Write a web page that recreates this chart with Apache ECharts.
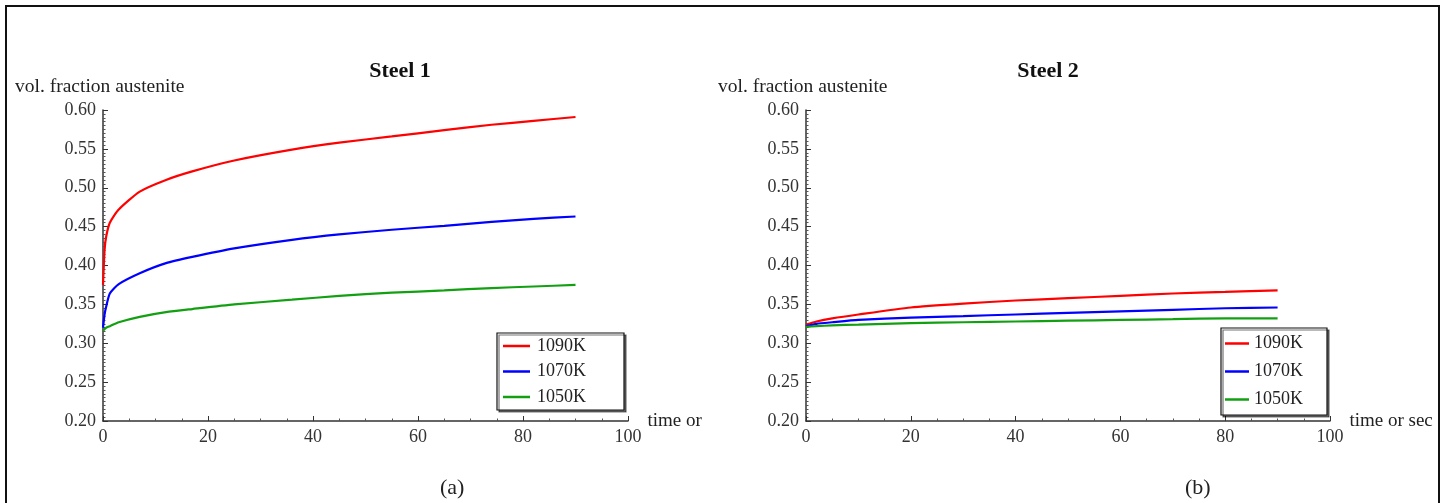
<!DOCTYPE html>
<html>
<head>
<meta charset="utf-8">
<script src="https://cdn.jsdelivr.net/npm/echarts@6/dist/echarts.min.js"></script>
<style>
  html, body { margin: 0; padding: 0; background: #fff; }
  body { width: 1450px; height: 503px; position: relative; overflow: hidden; }
  #steel1 { position: absolute; left: 0; top: 0; width: 705px; height: 503px; }
  #steel2 { position: absolute; left: 707px; top: 0; width: 730px; height: 503px; }
  #frame { position: absolute; left: 5px; top: 5px; width: 1431px; height: 520px;
           border: 2px solid #111; pointer-events: none; }
</style>
</head>
<body>
<div id="steel1"></div>
<div id="steel2"></div>
<div id="frame"></div>
<script>
// Austenite volume fraction vs. time at three holding temperatures
const seriesNames = ['1090K', '1070K', '1050K'];
const seriesColors = ['#ff0000', '#0000ff', '#12a012'];

// Steel 1
const time1 = [0, 0.3, 0.6, 1.3, 3, 7, 12, 17, 25, 36, 45, 55, 65, 74, 82, 90];
const steel1K1090 = [0.375, 0.420, 0.437, 0.455, 0.472, 0.495, 0.510, 0.521, 0.535, 0.549, 0.558, 0.566, 0.574, 0.581, 0.586, 0.591];
const steel1K1070 = [0.320, 0.337, 0.347, 0.364, 0.376, 0.390, 0.403, 0.411, 0.422, 0.433, 0.440, 0.446, 0.451, 0.456, 0.460, 0.463];
const steel1K1050 = [0.316, 0.318, 0.320, 0.322, 0.327, 0.334, 0.340, 0.344, 0.350, 0.356, 0.361, 0.365, 0.368, 0.371, 0.373, 0.375];

// Steel 2
const time2 = [0, 2, 5, 10, 20, 30, 40, 50, 60, 70, 80, 90];
const steel2K1090 = [0.324, 0.328, 0.332, 0.337, 0.346, 0.351, 0.355, 0.358, 0.361, 0.364, 0.366, 0.368];
const steel2K1070 = [0.322, 0.325, 0.327, 0.330, 0.333, 0.335, 0.337, 0.339, 0.341, 0.343, 0.345, 0.346];
const steel2K1050 = [0.321, 0.322, 0.323, 0.324, 0.326, 0.327, 0.328, 0.329, 0.330, 0.331, 0.332, 0.332];

const xMin = 0, xMax = 100, xStep = 20;
const yMin = 0.20, yMax = 0.60, yStep = 0.05;
const yAxisTitle = 'vol. fraction austenite';
const xAxisTitle = 'time or sec';

const FONT = '"Liberation Serif", "DejaVu Serif", serif';
const INK = '#222';

function pairs(xs, ys) { return xs.map((x, i) => [x, ys[i]]); }

function buildOption(cfg) {
  return {
    animation: false,
    backgroundColor: 'transparent',
    title: {
      text: cfg.title,
      left: cfg.titleX,
      top: 55,
      textAlign: 'center',
      textStyle: { fontFamily: FONT, fontSize: 22, fontWeight: 'bold', color: '#111' }
    },
    graphic: [{
      type: 'text',
      left: cfg.yNameX,
      top: 77,
      style: { text: yAxisTitle, font: '19.5px ' + FONT, fill: INK }
    }, {
      type: 'text',
      left: cfg.captionX,
      top: 477,
      style: { text: cfg.caption, font: '22px ' + FONT, fill: INK }
    }],
    legend: {
      orient: 'vertical',
      left: cfg.legend.left,
      top: cfg.legend.top,
      padding: cfg.legend.padding,
      itemGap: cfg.legend.gap,
      itemWidth: cfg.legend.itemWidth,
      itemHeight: 2.5,
      icon: 'rect',
      backgroundColor: '#fff',
      borderColor: '#111',
      borderWidth: 1.2,
      shadowColor: 'rgba(0,0,0,0.55)',
      shadowOffsetX: 2,
      shadowOffsetY: 2,
      shadowBlur: 0,
      data: seriesNames,
      textStyle: { fontFamily: FONT, fontSize: 18, lineHeight: 16, color: INK, padding: [0, 0, 0, cfg.legend.textPad] }
    },
    grid: { left: cfg.grid.left, right: cfg.grid.right, top: 110, bottom: 82,
            containLabel: false, outerBoundsMode: 'none' },
    xAxis: {
      type: 'value', min: xMin, max: xMax, interval: xStep,
      name: xAxisTitle, nameLocation: 'end', nameGap: 18,
      nameTextStyle: { fontFamily: FONT, fontSize: 19, color: INK, align: 'left', verticalAlign: 'middle' },
      axisLine: { lineStyle: { color: '#333', width: 1.5 } },
      axisTick: { inside: true, length: 5, lineStyle: { color: '#333' } },
      minorTick: { show: true, splitNumber: 4, length: 2.5, lineStyle: { color: '#555' } },
      axisLabel: { fontFamily: FONT, fontSize: 18, color: '#333', margin: 7 },
      splitLine: { show: false }
    },
    yAxis: {
      type: 'value', min: yMin, max: yMax, interval: yStep,
      axisLine: { show: true, lineStyle: { color: '#333', width: 1.5 } },
      axisTick: { show: true, inside: true, length: 5, lineStyle: { color: '#333' } },
      minorTick: { show: true, splitNumber: 10, length: 2.5, lineStyle: { color: '#555' } },
      axisLabel: { fontFamily: FONT, fontSize: 18, color: '#333', margin: 7,
                   formatter: v => v.toFixed(2) },
      splitLine: { show: false }
    },
    series: cfg.data.map((ys, i) => ({
      name: seriesNames[i],
      type: 'line',
      symbol: 'none',
      smooth: 0.2,
      lineStyle: { color: seriesColors[i], width: 2.2 },
      itemStyle: { color: seriesColors[i] },
      data: pairs(cfg.time, ys)
    }))
  };
}

const chart1 = echarts.init(document.getElementById('steel1'), null, { renderer: 'canvas' });
chart1.setOption(buildOption({
  title: 'Steel 1', titleX: 395, yNameX: 15, caption: '(a)', captionX: 440,
  grid: { left: 103, right: 77 },
  legend: { left: 497, top: 333, padding: [4, 38, 4, 6], gap: 7.5, itemWidth: 27, textPad: 2 },
  time: time1,
  data: [steel1K1090, steel1K1070, steel1K1050]
}));

const chart2 = echarts.init(document.getElementById('steel2'), null, { renderer: 'canvas' });
chart2.setOption(buildOption({
  title: 'Steel 2', titleX: 336, yNameX: 11, caption: '(b)', captionX: 478,
  grid: { left: 99, right: 107 },
  legend: { left: 514, top: 328, padding: [6.5, 24, 6.5, 4], gap: 10, itemWidth: 24, textPad: 0 },
  time: time2,
  data: [steel2K1090, steel2K1070, steel2K1050]
}));
</script>
</body>
</html>
